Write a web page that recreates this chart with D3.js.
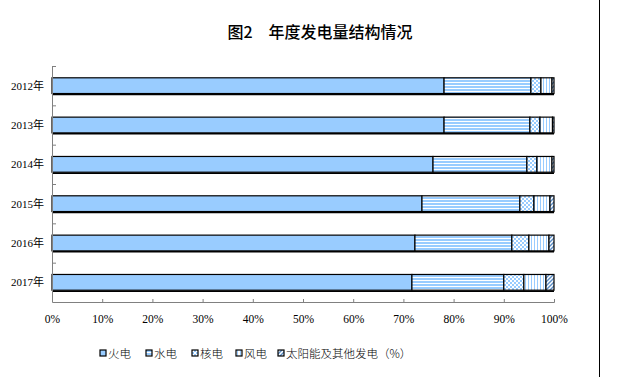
<!DOCTYPE html>
<html><head><meta charset="utf-8">
<script src="https://cdn.jsdelivr.net/npm/d3@7"></script>
<style>body{margin:0;background:#fff}svg{display:block}</style>
</head><body>
<script>
const years = ["2012年","2013年","2014年","2015年","2016年","2017年"];
const seriesNames = ["火电","水电","核电","风电","太阳能及其他发电（%）"];
const thermal = [78.1, 78.1, 75.9, 73.7, 72.3, 71.7];
const hydro   = [17.3, 17.1, 18.7, 19.5, 19.3, 18.3];
const nuclear = [2.0, 2.0, 2.0, 2.8, 3.4, 4.0];
const wind    = [2.2, 2.5, 3.0, 3.2, 4.0, 4.4];
const solar   = [0.4, 0.3, 0.4, 0.8, 1.0, 1.6];
const xTicks = [0,10,20,30,40,50,60,70,80,90,100];
const title = "图2　年度发电量结构情况";

const W=621,H=384;
const svg=d3.select("body").append("svg").attr("width",W).attr("height",H);
const defs=svg.append("defs");
const blue="#99CCFF";
let p=defs.append("pattern").attr("id","p1").attr("patternUnits","userSpaceOnUse").attr("width",4).attr("height",3);
p.append("rect").attr("width",4).attr("height",3).attr("fill",blue);
p.append("rect").attr("width",4).attr("height",1).attr("y",1).attr("fill","#fff");
p=defs.append("pattern").attr("id","p2").attr("patternUnits","userSpaceOnUse").attr("width",4).attr("height",4);
p.append("rect").attr("width",4).attr("height",4).attr("fill","#fff");
p.append("rect").attr("width",2).attr("height",2).attr("fill",blue);
p.append("rect").attr("x",2).attr("y",2).attr("width",2).attr("height",2).attr("fill",blue);
p=defs.append("pattern").attr("id","p3").attr("patternUnits","userSpaceOnUse").attr("width",3).attr("height",4);
p.append("rect").attr("width",3).attr("height",4).attr("fill","#fff");
p.append("rect").attr("width",1).attr("height",4).attr("fill",blue);
p=defs.append("pattern").attr("id","p4").attr("patternUnits","userSpaceOnUse").attr("width",4).attr("height",4);
p.append("rect").attr("width",4).attr("height",4).attr("fill","#fff");
p.append("path").attr("d","M0,4L4,0M-1,1L1,-1M3,5L5,3").attr("stroke","#5B8DC6").attr("stroke-width",1.4);
const fills=[blue,"url(#p1)","url(#p2)","url(#p3)","url(#p4)"];

const x=d3.scaleLinear().domain([0,100]).range([52,554]);
const y=d3.scaleBand().domain(years).range([66,302]).paddingInner(0.6).paddingOuter(0.3);

svg.append("text").attr("x",320).attr("y",38).attr("text-anchor","middle")
  .attr("font-family","Noto Sans CJK SC").attr("font-size",16).attr("font-weight",500).attr("fill","#000").text(title);

svg.append("line").attr("x1",599.5).attr("x2",599.5).attr("y1",0).attr("y2",377).attr("stroke","#000").attr("stroke-width",1);

const data=years.map((yr,i)=>{const v=[thermal[i],hydro[i],nuclear[i],wind[i],solar[i]];let c=0;return v.map((d,k)=>{const o={yr,k,x0:c,x1:c+d};c+=d;return o;});});

const g=svg.append("g");
data.forEach(row=>{
  row.forEach(s=>{
    g.append("rect").attr("x",x(s.x0)).attr("y",y(s.yr)).attr("width",x(s.x1)-x(s.x0)).attr("height",y.bandwidth())
      .attr("fill",fills[s.k]).attr("stroke","#000").attr("stroke-width",1.2);
  });
  g.append("line").attr("x1",x(0)).attr("x2",x(row[4].x1)).attr("y1",y(row[0].yr)+y.bandwidth()+1).attr("y2",y(row[0].yr)+y.bandwidth()+1)
    .attr("stroke","#000").attr("stroke-width",1.5);
});

const yl=svg.append("g");
yl.append("line").attr("x1",52.5).attr("x2",52.5).attr("y1",66).attr("y2",302).attr("stroke","#808080");
const bounds=d3.range(years.length).map(i=>66+i*(236/years.length));
yl.selectAll("line.t").data(bounds).join("line").attr("class","t").attr("x1",52).attr("x2",56).attr("y1",d=>d+0.5).attr("y2",d=>d+0.5).attr("stroke","#808080");
yl.selectAll("text").data(years).join("text").attr("x",44).attr("y",d=>y(d)+y.bandwidth()/2+4).attr("text-anchor","end")
  .attr("font-family","Liberation Serif, Noto Sans CJK SC").attr("font-size",11).attr("fill","#000").text(d=>d);

const xa=svg.append("g").attr("transform","translate(0,302)");
xa.call(d3.axisBottom(x).tickValues(xTicks).tickSize(-3).tickPadding(13).tickFormat(d=>d+"%"));
xa.select(".domain").attr("stroke","#808080");
xa.selectAll(".tick line").attr("stroke","#808080");
xa.selectAll(".tick text").attr("font-family","Liberation Serif").attr("font-size",11.5).attr("fill","#000");

const lx=[100,146,192,236,278];
const lg=svg.append("g");
seriesNames.forEach((n,i)=>{
  lg.append("rect").attr("x",lx[i]).attr("y",350).attr("width",6).attr("height",6).attr("fill",fills[i]).attr("stroke","#000").attr("stroke-width",1.2);
  lg.append("text").attr("x",lx[i]+8).attr("y",358).attr("font-family","Noto Sans CJK SC").attr("font-size",11.5).attr("font-weight",300).attr("fill","#000").text(n);
});
</script>
</body></html>
